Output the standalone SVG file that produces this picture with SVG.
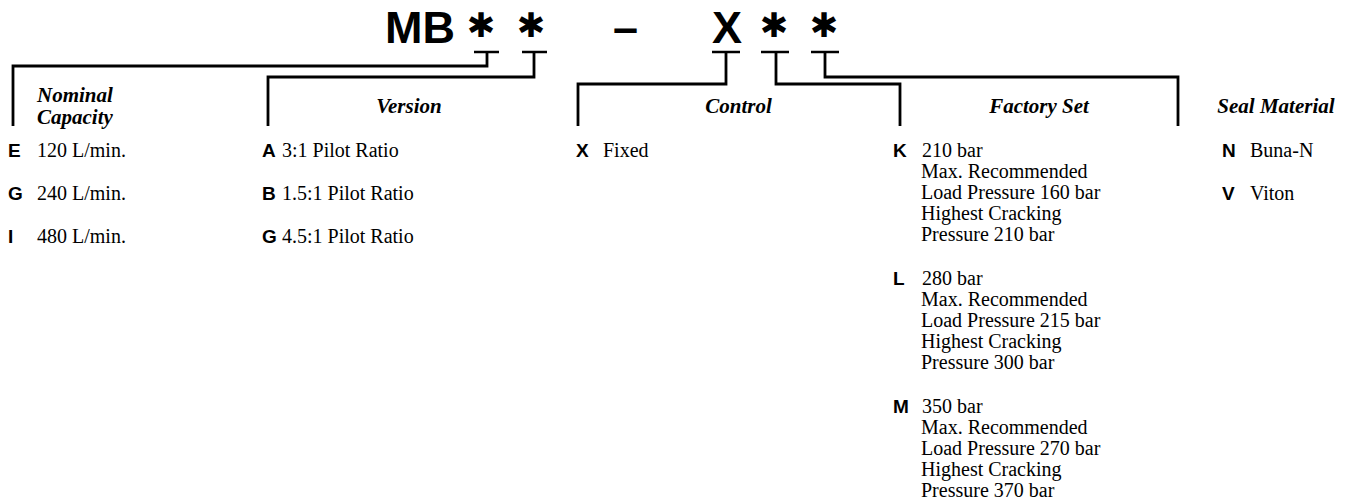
<svg xmlns="http://www.w3.org/2000/svg" width="1351" height="502" viewBox="0 0 1351 502">
<style>
.code{font-family:"Liberation Sans",Arial,sans-serif;font-weight:bold;font-size:45px;fill:#000}
.ast{font-family:"DejaVu Sans",sans-serif;font-size:34px;fill:#000;text-anchor:middle}
.hd{font-family:"Liberation Serif","Times New Roman",serif;font-weight:bold;font-style:italic;font-size:21px;fill:#000}
.ltr{font-family:"Liberation Sans",Arial,sans-serif;font-weight:bold;font-size:19px;fill:#000}
.val{font-family:"Liberation Serif","Times New Roman",serif;font-size:20px;fill:#000}
.ul{stroke:#000;stroke-width:2.5;fill:none}
.conn path{stroke:#000;stroke-width:2.8;fill:none;stroke-linejoin:miter;stroke-linecap:butt}
</style>
<g id="model-code">
<text class="code" x="385" y="42.5">MB</text>
<text class="ast" x="481" y="37">✱</text>
<text class="ast" x="531" y="37">✱</text>
<text class="code" x="613" y="43">–</text>
<text class="code" x="712" y="42.5">X</text>
<text class="ast" x="774" y="37">✱</text>
<text class="ast" x="824" y="37">✱</text>
<line class="ul" x1="474" y1="52" x2="499" y2="52"/>
<line class="ul" x1="522" y1="52" x2="547" y2="52"/>
<line class="ul" x1="712" y1="52" x2="740" y2="52"/>
<line class="ul" x1="761" y1="52" x2="789" y2="52"/>
<line class="ul" x1="811" y1="52" x2="839" y2="52"/>
</g>
<g id="connectors" class="conn">
<path d="M487,52 V66 H13 V126"/>
<path d="M534,52 V77 H268 V126"/>
<path d="M726,52 V84 H578 V126"/>
<path d="M776,52 V84 H900 V126"/>
<path d="M825,52 V77 H1178 V126"/>
</g>
<g id="nominal-capacity">
<text class="hd" x="37" y="102">Nominal</text>
<text class="hd" x="37" y="124">Capacity</text>
<text class="ltr" x="8" y="157">E</text><text class="val" x="37" y="157">120 L/min.</text>
<text class="ltr" x="8" y="200">G</text><text class="val" x="37" y="200">240 L/min.</text>
<text class="ltr" x="8" y="243">I</text><text class="val" x="37" y="243">480 L/min.</text>
</g>
<g id="version">
<text class="hd" x="409" y="113" text-anchor="middle">Version</text>
<text class="ltr" x="262" y="157">A</text><text class="val" x="282" y="157">3:1 Pilot Ratio</text>
<text class="ltr" x="262" y="200">B</text><text class="val" x="282" y="200">1.5:1 Pilot Ratio</text>
<text class="ltr" x="262" y="243">G</text><text class="val" x="282" y="243">4.5:1 Pilot Ratio</text>
</g>
<g id="control">
<text class="hd" x="738.5" y="113" text-anchor="middle">Control</text>
<text class="ltr" x="576" y="157">X</text><text class="val" x="603" y="157">Fixed</text>
</g>
<g id="factory-set">
<text class="hd" x="1039" y="113" text-anchor="middle">Factory Set</text>
<text class="ltr" x="893" y="157">K</text>
<text class="val" x="922" y="157">210 bar</text>
<text class="val" x="921" y="178">Max. Recommended</text>
<text class="val" x="921" y="199">Load Pressure 160 bar</text>
<text class="val" x="921" y="220">Highest Cracking</text>
<text class="val" x="921" y="241">Pressure 210 bar</text>
<text class="ltr" x="893" y="285">L</text>
<text class="val" x="922" y="285">280 bar</text>
<text class="val" x="921" y="306">Max. Recommended</text>
<text class="val" x="921" y="327">Load Pressure 215 bar</text>
<text class="val" x="921" y="348">Highest Cracking</text>
<text class="val" x="921" y="369">Pressure 300 bar</text>
<text class="ltr" x="893" y="413">M</text>
<text class="val" x="922" y="413">350 bar</text>
<text class="val" x="921" y="434">Max. Recommended</text>
<text class="val" x="921" y="455">Load Pressure 270 bar</text>
<text class="val" x="921" y="476">Highest Cracking</text>
<text class="val" x="921" y="497">Pressure 370 bar</text>
</g>
<g id="seal-material">
<text class="hd" x="1276" y="113" text-anchor="middle">Seal Material</text>
<text class="ltr" x="1222" y="157">N</text><text class="val" x="1250" y="157">Buna-N</text>
<text class="ltr" x="1222" y="200">V</text><text class="val" x="1250" y="200">Viton</text>
</g>
</svg>
